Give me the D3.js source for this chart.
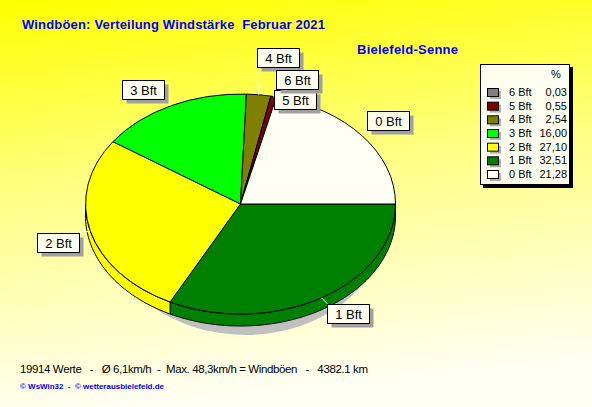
<html>
<head>
<meta charset="utf-8">
<style>
  body { margin: 0; }
  text { font-family: "Liberation Sans", Arial, sans-serif; }
</style>
</head>
<body>
<svg id="chart" width="592" height="407"></svg>
<script src="https://cdn.jsdelivr.net/npm/d3@7"></script>
<script>
// data
const categories = ["0 Bft", "1 Bft", "2 Bft", "3 Bft", "4 Bft", "5 Bft", "6 Bft"];
const percents = [21.28, 32.51, 27.10, 16.00, 2.54, 0.55, 0.03];
const percentLabels = ["21,28", "32,51", "27,10", "16,00", "2,54", "0,55", "0,03"];
const colors = ["#fffff4", "#008000", "#ffff00", "#00ff00", "#808000", "#800000", "#808080"];
// order the slices are laid out, clockwise from east
const pieOrder = [1, 2, 3, 4, 5, 6, 0];
// order in the legend, top to bottom
const legendOrder = [6, 5, 4, 3, 2, 1, 0];
// label box offset from the slice edge point (top-left corner of box)
const labelOffsets = [[5, -25], [6, 6], [-53, 2], [-49, -26], [-2, -47], [0, -7], [0, -27]];

const title = "Windböen: Verteilung Windstärke  Februar 2021";
const station = "Bielefeld-Senne";
const footer = "19914 Werte   -   Ø 6,1km/h  -  Max. 48,3km/h = Windböen   -   4382.1 km";
const credits = "© WsWin32  -  © wetterausbielefeld.de";

const svg = d3.select("#chart")

// background gradient
let defs = svg.append("defs")
let grad = defs.append("linearGradient").attr("id", "bg")
    .attr("x1", 0).attr("y1", 0).attr("x2", 0.15).attr("y2", 1)
grad.append("stop").attr("offset", "0%").attr("stop-color", "#ffff00")
grad.append("stop").attr("offset", "45%").attr("stop-color", "#ffff80")
grad.append("stop").attr("offset", "100%").attr("stop-color", "#fffff2")
svg.append("rect").attr("width", 592).attr("height", 407).attr("fill", "url(#bg)")

svg.append("text").text(title)
    .attr("x", 22).attr("y", 29)
    .attr("textLength", 303).attr("lengthAdjust", "spacing")
    .attr("fill", "#0000ff").style("font-weight", "bold").style("font-size", "13px")
    .style("white-space", "pre")

svg.append("text").text(station)
    .attr("x", 357).attr("y", 54)
    .attr("textLength", 101).attr("lengthAdjust", "spacing")
    .attr("fill", "#0000ff").style("font-weight", "bold").style("font-size", "13px")

// pie geometry
const cx = 240.5, cy = 204, rx = 155, ry = 110, depth = 12

const pie = d3.pie().sort(null).value(d => percents[d])
    .startAngle(Math.PI / 2).endAngle(Math.PI / 2 + 2 * Math.PI)
const slices = pie(pieOrder)

function pt(a, dy) {
    return [cx + rx * Math.sin(a), cy - ry * Math.cos(a) + (dy || 0)]
}

// shadow
svg.append("ellipse")
    .attr("cx", cx + 5).attr("cy", cy + 19)
    .attr("rx", rx - 15).attr("ry", ry + 2)
    .attr("fill", "#c0c0c0")

// side walls on the front half
let line = d3.line()
let walls = svg.append("g")
slices.forEach(s => {
    let a0 = Math.max(s.startAngle, Math.PI / 2)
    let a1 = Math.min(s.endAngle, 3 * Math.PI / 2)
    if (a1 <= a0) return
    let n = Math.max(2, Math.ceil((a1 - a0) * 40))
    let top = d3.range(n + 1).map(i => pt(a0 + (a1 - a0) * i / n))
    let bottom = top.slice().reverse().map(p => [p[0], p[1] + depth])
    walls.append("path")
        .attr("d", line(top.concat(bottom)) + "Z")
        .attr("fill", colors[s.data])
        .attr("stroke", "#000")
        .attr("stroke-width", 1)
        .attr("stroke-linejoin", "round")
})

// top faces
let arc = d3.arc().innerRadius(0).outerRadius(1)
svg.append("g")
    .attr("transform", `translate(${cx},${cy}) scale(${rx},${ry})`)
    .selectAll("path")
    .data(slices)
    .enter()
    .append("path")
    .attr("d", arc)
    .attr("fill", d => colors[d.data])
    .attr("stroke", "#000")
    .attr("stroke-width", 1)
    .attr("vector-effect", "non-scaling-stroke")

// labels
const boxW = 42, boxH = 19
let labels = svg.append("g")
slices.forEach(s => {
    let k = s.data
    let mid = (s.startAngle + s.endAngle) / 2
    let p = pt(mid)
    let bx = p[0] + labelOffsets[k][0]
    let by = p[1] + labelOffsets[k][1]
    // leader to nearest corner
    let corners = [[bx, by], [bx + boxW, by], [bx, by + boxH], [bx + boxW, by + boxH]]
    let c = d3.least(corners, q => (q[0] - p[0]) ** 2 + (q[1] - p[1]) ** 2)
    labels.append("line")
        .attr("x1", p[0]).attr("y1", p[1])
        .attr("x2", c[0]).attr("y2", c[1])
        .attr("stroke", "#fff").attr("stroke-width", 1)
})
slices.forEach(s => {
    let k = s.data
    let mid = (s.startAngle + s.endAngle) / 2
    let p = pt(mid)
    let bx = Math.round(p[0] + labelOffsets[k][0]) + 0.5
    let by = Math.round(p[1] + labelOffsets[k][1]) + 0.5
    labels.append("rect")
        .attr("x", bx + 4).attr("y", by + 4)
        .attr("width", boxW).attr("height", boxH)
        .attr("fill", "#a0a0a0")
    labels.append("rect")
        .attr("x", bx).attr("y", by)
        .attr("width", boxW).attr("height", boxH)
        .attr("fill", "#fffff0").attr("stroke", "#000")
    labels.append("text").text(categories[k])
        .attr("x", bx + boxW / 2).attr("y", by + 14)
        .attr("text-anchor", "middle")
        .style("font-size", "13px")
})

// legend
let legend = svg.append("g")
legend.append("rect").attr("x", 483).attr("y", 67)
    .attr("width", 90).attr("height", 121).attr("fill", "#000")
legend.append("rect").attr("x", 480.5).attr("y", 64.5)
    .attr("width", 89).attr("height", 120)
    .attr("fill", "#fffff0").attr("stroke", "#000")
legend.append("text").text("%")
    .attr("x", 551).attr("y", 78).style("font-size", "11px")

let rowY = d3.scalePoint().domain(legendOrder).range([92, 174])
legendOrder.forEach(k => {
    let y = rowY(k)
    legend.append("rect").attr("x", 490).attr("y", y - 1)
        .attr("width", 11).attr("height", 8).attr("fill", "#b0b0b0")
    legend.append("rect").attr("x", 487.5).attr("y", y - 3.5)
        .attr("width", 11).attr("height", 8)
        .attr("fill", colors[k]).attr("stroke", "#000")
    legend.append("text").text(categories[k])
        .attr("x", 509).attr("y", y + 4).style("font-size", "11px")
    legend.append("text").text(percentLabels[k])
        .attr("x", 567).attr("y", y + 4).attr("text-anchor", "end")
        .style("font-size", "11px")
})

// footer
svg.append("text").text(footer)
    .attr("x", 20).attr("y", 373)
    .attr("textLength", 348).attr("lengthAdjust", "spacing")
    .style("font-size", "11.5px").style("white-space", "pre")
svg.append("text").text(credits)
    .attr("x", 20).attr("y", 389)
    .attr("textLength", 144).attr("lengthAdjust", "spacing")
    .attr("fill", "#0000ff").style("font-weight", "bold")
    .style("font-size", "8px").style("white-space", "pre")
</script>
</body>
</html>
